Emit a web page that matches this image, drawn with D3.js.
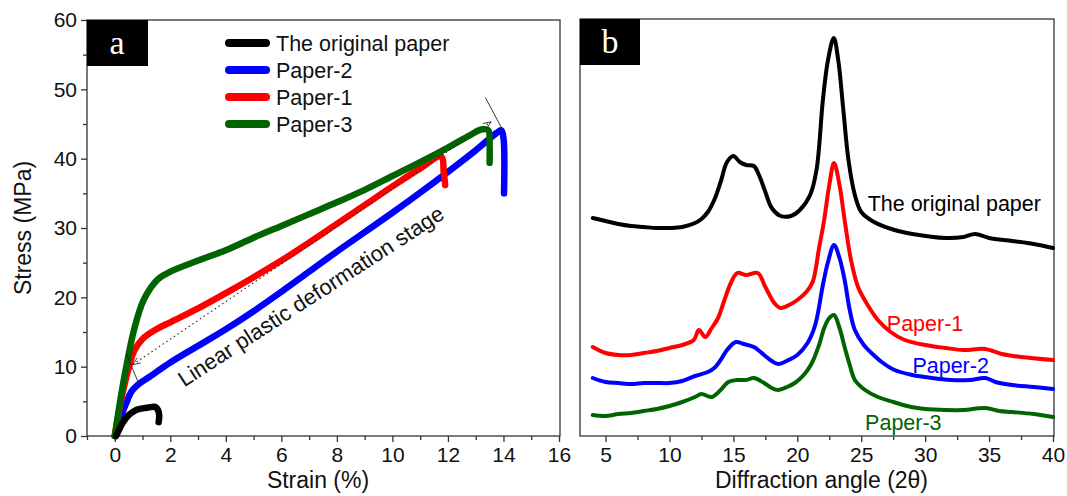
<!DOCTYPE html>
<html><head><meta charset="utf-8">
<script src="https://cdn.jsdelivr.net/npm/d3@7"></script>
<style>
body{margin:0;background:#fff}
svg{display:block}
text{font-family:"Liberation Sans",Arial,sans-serif;fill:#111}
</style>
</head><body>
<svg id="c" width="1067" height="496"></svg>
<script>
// ---------- Panel a : stress-strain ----------
const strainTicks = [0,2,4,6,8,10,12,14,16];
const stressTicks = [0,10,20,30,40,50,60];
const seriesNamesA = ["The original paper","Paper-2","Paper-1","Paper-3"];
const seriesColors = ["#000000","#0000ff","#ff0000","#006400"];

const originalPaperA = [[0.05,0],[0.3,2.0],[0.5,3.0],[0.7,3.6],[0.9,3.9],[1.2,4.1],[1.45,4.2],[1.55,3.8],[1.6,3.0],[1.58,2.0]];
const paper2A = [[0,0],[0.2,2.5],[0.4,4.6],[0.6,6.4],[0.9,7.6],[1.2,8.4],[2,10.6],[3,13.0],[4,15.4],[5,18.0],[6,20.8],[7,23.7],[8,26.6],[9,29.4],[10,32.2],[11,35.1],[12,38.1],[13,41.2],[13.75,43.7],[13.92,44.1],[14.0,43],[14.02,35]];
const paper1A = [[0,0],[0.3,6.5],[0.55,10.5],[0.7,12.3],[1.0,14.0],[1.5,15.4],[2,16.4],[3,18.4],[4,20.6],[5,22.9],[6,25.3],[7,27.9],[8,30.6],[9,33.3],[10,36],[11,38.6],[11.75,40.3],[11.85,38],[11.9,36.2]];
const paper3A = [[0,0],[0.33,8.2],[0.7,15.4],[1.05,19.7],[1.55,22.6],[2,23.7],[3,25.3],[4,26.8],[5,28.6],[6,30.3],[7,32],[8,33.7],[9,35.5],[10,37.5],[11,39.5],[12,41.6],[12.8,43.4],[13.2,44.2],[13.45,44.1],[13.5,42],[13.5,39.4]];

// annotation (data coordinates)
const guideLine = [[0.65,10.3],[13.55,45.3]];
const guideEndTop = [[13.35,48.8],[13.95,44.3]];
const guideEndBottom = [[0.42,11.8],[0.88,7.4]];
const guideLabel = "Linear plastic deformation stage";
const guideLabelAt = [2.5,7.0];
const guideLabelAngle = -33;

// ---------- Panel b : XRD ----------
const angleTicks = [5,10,15,20,25,30,35,40];
const seriesNamesB = ["The original paper","Paper-1","Paper-2","Paper-3"];
const xrdOriginal = [[4,218],[5,215],[6,212],[7,210],[8,209],[9,208],[10,208],[11,209],[12,213],[12.5,217],[13,224],[13.5,236],[14,254],[14.5,274],[15,280],[15.5,274],[16,271],[16.6,270],[17,261],[17.5,244],[18,228],[18.7,220],[19.5,220],[20.2,226],[21,241],[21.5,266],[22,336],[22.4,376],[22.85,398],[23.2,376],[23.6,326],[24,276],[24.5,241],[25,224],[26,214],[27.6,206],[29,202],[31.6,198],[33,199],[33.9,202],[35,198],[36.8,195],[38.5,192],[40,188]];
const xrdPaper1 = [[4,89],[5,83],[6,81],[7,81],[8,83],[9,85],[10,88],[11,91],[11.9,96],[12.3,106],[12.8,99],[13.3,108],[13.8,118],[14.3,136],[14.8,153],[15.3,163],[16,161],[16.9,163],[17.5,149],[18.2,133],[18.7,128],[19.5,132],[20,136],[20.7,144],[21.2,154],[21.7,188],[22.1,216],[22.5,251],[22.87,273],[23.3,251],[23.7,216],[24.2,176],[24.75,149],[25.5,131],[26.3,116],[27.3,104],[28.4,96],[30,91],[31.6,88],[33,86],[34.7,87],[36,82],[37.5,79],[40,76]];
const xrdPaper2 = [[4,58],[5,54],[6,53],[7,52],[8,53],[9,53],[10,53],[11,55],[12,60],[13,64],[13.5,68],[14,76],[14.5,86],[15.2,94],[15.8,92],[16.6,89],[17.4,81],[18,75],[18.5,72],[19.3,76],[20,81],[20.8,93],[21.4,111],[22,151],[22.4,174],[22.87,191],[23.3,178],[23.7,156],[24.1,126],[24.5,106],[25.2,91],[25.8,83],[26.6,74],[27.6,66],[29,61],[30.5,58],[32,56],[33.5,56],[34.7,58],[35.5,54],[36.8,51],[38.5,49],[40,47]];
const xrdPaper3 = [[4,21],[5,20],[6,22],[7,23],[8,25],[9,27],[10,30],[11,34],[12,39],[12.5,42],[13.3,39],[14,46],[14.6,54],[15.3,56],[16,56],[16.6,58],[17.4,53],[18,48],[18.5,46],[19.2,49],[19.8,53],[20.5,61],[21.1,72],[21.7,91],[22.1,108],[22.5,118],[22.87,121],[23.3,108],[23.7,89],[24.1,71],[24.5,56],[25.3,46],[26.3,39],[27.5,34],[28.9,29],[30,27],[31.6,26],[33,26],[34.7,28],[35.8,25],[36.8,24],[38.5,22],[40,19]];
const labelPosB = [[25.5,233],[27.0,113],[29.0,71],[25.3,14]]; // label anchor (angle, intensity)

const svg = d3.select("#c");
const frameColor = "#333333";
const tickFont = "21px", titleFont = "23px";

// ===== Panel a =====
const xa = d3.scaleLinear().domain([-1,16]).range([87,559]);
const ya = d3.scaleLinear().domain([0,60]).range([436,20]);
const ga = svg.append("g");

ga.append("rect").attr("x",xa.range()[0]).attr("y",ya.range()[1])
  .attr("width",xa.range()[1]-xa.range()[0]+1).attr("height",ya.range()[0]-ya.range()[1])
  .attr("fill","none").attr("stroke",frameColor).attr("stroke-width",1.3);

ga.append("g").attr("transform",`translate(0,436)`)
  .call(d3.axisBottom(xa).tickValues(strainTicks).tickSize(6).tickPadding(5).tickFormat(d3.format("d")));
ga.append("g").attr("transform",`translate(0,436)`)
  .call(d3.axisBottom(xa).tickValues(d3.range(-1,17,2)).tickSize(4).tickFormat(""));
ga.append("g").attr("transform",`translate(87,0)`)
  .call(d3.axisLeft(ya).tickValues(stressTicks).tickSize(6).tickPadding(4));
ga.append("g").attr("transform",`translate(87,0)`)
  .call(d3.axisLeft(ya).tickValues(d3.range(5,60,10)).tickSize(4).tickFormat(""));
ga.selectAll(".domain").remove();
ga.selectAll(".tick line").attr("stroke",frameColor).attr("stroke-width",1.3);
ga.selectAll(".tick text").style("font-size",tickFont).attr("fill","#111");

ga.append("text").attr("x",(xa(-1)+xa(16))/2-5).attr("y",488).attr("text-anchor","middle")
  .style("font-size",titleFont).text("Strain (%)");
ga.append("text").attr("transform",`translate(31,${(20+436)/2}) rotate(-90)`).attr("text-anchor","middle")
  .style("font-size",titleFont).text("Stress (MPa)");

const lineA = d3.line().x(d=>xa(d[0])).y(d=>ya(d[1])).curve(d3.curveCatmullRom.alpha(0.5));
const dataA = [originalPaperA, paper2A, paper1A, paper3A];
[1,2,3,0].forEach(i=>{
  ga.append("path").datum(dataA[i]).attr("d",lineA).attr("fill","none")
    .attr("stroke",seriesColors[i]).attr("stroke-width",6.5)
    .attr("stroke-linecap","round").attr("stroke-linejoin","round");
});

// annotation
const lin = d3.line().x(d=>xa(d[0])).y(d=>ya(d[1]));
ga.append("path").datum(guideLine).attr("d",lin).attr("stroke","#222").attr("stroke-width",1.1)
  .attr("stroke-dasharray","1.5 3").attr("fill","none");
ga.append("path").datum(guideEndTop).attr("d",lin).attr("stroke","#222").attr("stroke-width",0.9).attr("fill","none");
ga.append("path").datum(guideEndBottom).attr("d",lin).attr("stroke","#222").attr("stroke-width",0.9).attr("fill","none");
function arrowHead(p, q){
  const x1=xa(p[0]),y1=ya(p[1]),x2=xa(q[0]),y2=ya(q[1]);
  const ang=Math.atan2(y2-y1,x2-x1), L=8, w=0.4;
  const pts=[[x2-L*Math.cos(ang-w),y2-L*Math.sin(ang-w)],[x2,y2],[x2-L*Math.cos(ang+w),y2-L*Math.sin(ang+w)]];
  ga.append("path").attr("d",d3.line()(pts)).attr("stroke","#222").attr("stroke-width",0.9).attr("fill","none");
}
arrowHead(guideLine[0],guideLine[1]);
arrowHead(guideLine[1],guideLine[0]);

ga.append("text").attr("transform",`translate(${xa(guideLabelAt[0])},${ya(guideLabelAt[1])}) rotate(${guideLabelAngle})`)
  .style("font-size","22px").text(guideLabel);

// legend
const legY = [43,70,97,124];
seriesNamesA.forEach((n,i)=>{
  ga.append("line").attr("x1",229).attr("x2",266).attr("y1",legY[i]).attr("y2",legY[i])
    .attr("stroke",seriesColors[i]).attr("stroke-width",8).attr("stroke-linecap","round");
  ga.append("text").attr("x",276).attr("y",legY[i]).attr("dy","0.36em").style("font-size","21.5px").text(n);
});

ga.append("rect").attr("x",87).attr("y",20).attr("width",61).attr("height",46).attr("fill","#000");
ga.append("text").attr("x",117).attr("y",42).attr("dy","0.35em").attr("text-anchor","middle")
  .style("font-family","'Liberation Serif','Times New Roman',serif").style("font-size","34px").style("fill","#fff").text("a");

// ===== Panel b =====
const xb = d3.scaleLinear().domain([3,40]).range([580,1053]);
const yb = d3.scaleLinear().domain([0,417]).range([436,19]);
const gb = svg.append("g");
gb.append("rect").attr("x",580).attr("y",19).attr("width",1054-580).attr("height",436-19)
  .attr("fill","none").attr("stroke",frameColor).attr("stroke-width",1.3);
gb.append("g").attr("transform","translate(0,436)")
  .call(d3.axisBottom(xb).tickValues(angleTicks).tickSize(6).tickPadding(5));
gb.append("g").attr("transform","translate(0,436)")
  .call(d3.axisBottom(xb).tickValues(d3.range(7.5,40,5)).tickSize(4).tickFormat(""));
gb.selectAll(".domain").remove();
gb.selectAll(".tick line").attr("stroke",frameColor).attr("stroke-width",1.3);
gb.selectAll(".tick text").style("font-size",tickFont).attr("fill","#111");
gb.append("text").attr("x",(580+1053)/2+5).attr("y",488).attr("text-anchor","middle")
  .style("font-size",titleFont).text("Diffraction angle (2θ)");

const lineB = d3.line().x(d=>xb(d[0])).y(d=>yb(d[1])).curve(d3.curveCatmullRom.alpha(0.5));
const dataB = [xrdOriginal, xrdPaper1, xrdPaper2, xrdPaper3];
const colB = ["#000000","#ff0000","#0000ff","#006400"];
[3,2,1,0].forEach(i=>{
  gb.append("path").datum(dataB[i]).attr("d",lineB).attr("fill","none")
    .attr("stroke",colB[i]).attr("stroke-width",4).attr("stroke-linejoin","round").attr("stroke-linecap","round");
});
seriesNamesB.forEach((n,i)=>{
  gb.append("text").attr("x",xb(labelPosB[i][0])).attr("y",yb(labelPosB[i][1])).attr("dy","0.35em")
    .style("font-size","21.5px").style("fill",colB[i]).text(n);
});
gb.append("rect").attr("x",580).attr("y",19).attr("width",60).attr("height",46).attr("fill","#000");
gb.append("text").attr("x",610).attr("y",41).attr("dy","0.35em").attr("text-anchor","middle")
  .style("font-family","'Liberation Serif','Times New Roman',serif").style("font-size","34px").style("fill","#fff").text("b");
</script>
</body></html>
